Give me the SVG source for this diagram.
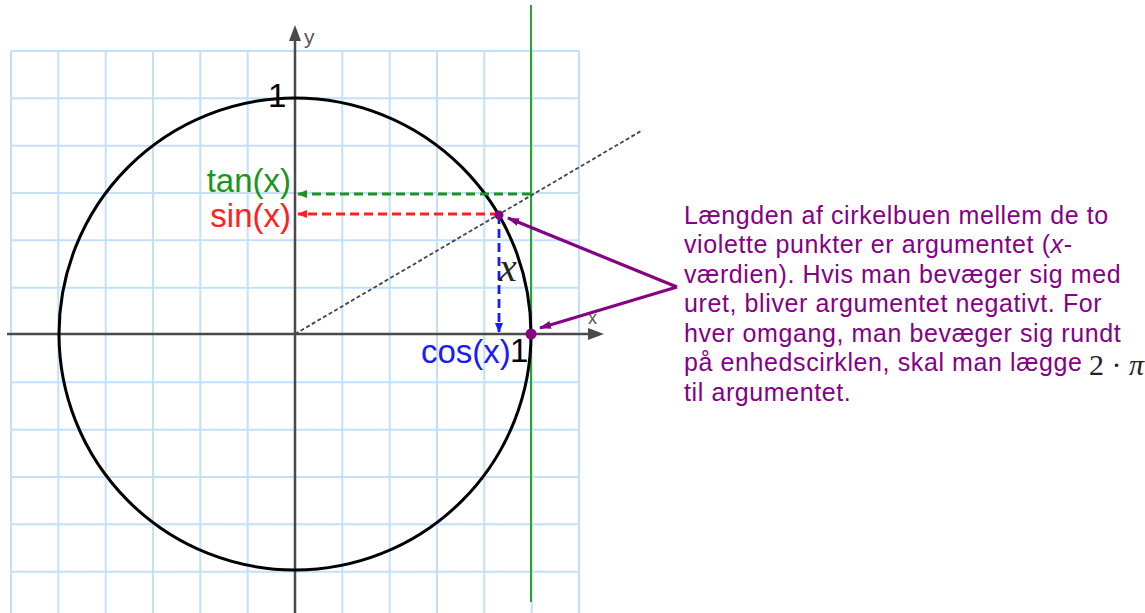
<svg xmlns="http://www.w3.org/2000/svg" width="1145" height="613" viewBox="0 0 1145 613">
<style>
.grid line{stroke:#c0e0fc;stroke-width:2}
.axis{stroke:#4a4a4a;stroke-width:2.5;fill:none}
.lbl{font-family:"Liberation Sans",Arial,sans-serif;font-size:33px}
.small{font-family:"Liberation Sans",Arial,sans-serif;fill:#555}
.desc{font-family:"Liberation Sans",Arial,sans-serif;font-size:25px;fill:#850085;letter-spacing:0.6px}
.dash{stroke-width:2.8;stroke-dasharray:9 5;fill:none}
.purple{stroke:#850085;stroke-width:3.2;fill:none}
</style>
<defs>
<marker id="ag" markerWidth="10" markerHeight="8" refX="9" refY="4" orient="auto" markerUnits="userSpaceOnUse"><path d="M0,0 L10,4 L0,8 z" fill="#1a961a"/></marker>
<marker id="ar" markerWidth="10" markerHeight="8" refX="9" refY="4" orient="auto" markerUnits="userSpaceOnUse"><path d="M0,0 L10,4 L0,8 z" fill="#ff2020"/></marker>
<marker id="ab" markerWidth="10" markerHeight="8" refX="9" refY="4" orient="auto" markerUnits="userSpaceOnUse"><path d="M0,0 L10,4 L0,8 z" fill="#1a1aff"/></marker>
<marker id="ap" markerWidth="12" markerHeight="8" refX="11" refY="4" orient="auto" markerUnits="userSpaceOnUse"><path d="M0,0 L12,4 L0,8 z" fill="#850085"/></marker>
</defs>

<g id="grid" class="grid">
<line x1="11" y1="51" x2="11" y2="613"/>
<line x1="58.3" y1="51" x2="58.3" y2="613"/>
<line x1="105.7" y1="51" x2="105.7" y2="613"/>
<line x1="153" y1="51" x2="153" y2="613"/>
<line x1="200.3" y1="51" x2="200.3" y2="613"/>
<line x1="247.7" y1="51" x2="247.7" y2="613"/>
<line x1="342.3" y1="51" x2="342.3" y2="613"/>
<line x1="389.7" y1="51" x2="389.7" y2="613"/>
<line x1="437" y1="51" x2="437" y2="613"/>
<line x1="484.3" y1="51" x2="484.3" y2="613"/>
<line x1="531.7" y1="51" x2="531.7" y2="613"/>
<line x1="579" y1="51" x2="579" y2="613"/>
<line x1="11" y1="51" x2="579" y2="51"/>
<line x1="11" y1="98.3" x2="579" y2="98.3"/>
<line x1="11" y1="145.7" x2="579" y2="145.7"/>
<line x1="11" y1="193" x2="579" y2="193"/>
<line x1="11" y1="240.3" x2="579" y2="240.3"/>
<line x1="11" y1="287.7" x2="579" y2="287.7"/>
<line x1="11" y1="382.3" x2="579" y2="382.3"/>
<line x1="11" y1="429.7" x2="579" y2="429.7"/>
<line x1="11" y1="477" x2="579" y2="477"/>
<line x1="11" y1="524.3" x2="579" y2="524.3"/>
<line x1="11" y1="571.7" x2="579" y2="571.7"/>
</g>

<g id="green-line"><line x1="531" y1="5" x2="531" y2="602" stroke="#2aa52a" stroke-width="2"/></g>

<g id="axes">
<line class="axis" x1="7" y1="334" x2="592" y2="334"/>
<path d="M604,334 L588,328 L588,340 z" fill="#4a4a4a"/>
<line class="axis" x1="295" y1="613" x2="295" y2="38"/>
<path d="M295,25 L289,41 L301,41 z" fill="#4a4a4a"/>
<text class="small" x="304" y="44" font-size="21">y</text>
<text class="small" x="588" y="324" font-size="18">x</text>
</g>

<g id="circle"><circle cx="295" cy="334" r="236" fill="none" stroke="#000" stroke-width="3"/></g>

<g id="connectors">
<line x1="295" y1="334" x2="641" y2="131" stroke="#444" stroke-width="1.8" stroke-dasharray="4 2.5"/>
<line class="dash" x1="531" y1="194" x2="298" y2="194" stroke="#1a961a" marker-end="url(#ag)"/>
<line class="dash" x1="499" y1="214" x2="298" y2="214" stroke="#ff2020" marker-end="url(#ar)"/>
<line class="dash" x1="499" y1="215" x2="499" y2="332" stroke="#1a1aff" marker-end="url(#ab)"/>
<line class="purple" x1="677" y1="287" x2="508" y2="218" marker-end="url(#ap)"/>
<line class="purple" x1="677" y1="287" x2="540" y2="328" marker-end="url(#ap)"/>
</g>

<g id="points">
<circle cx="499" cy="215" r="4.5" fill="#850085"/>
<circle cx="531" cy="334" r="5.5" fill="#850085"/>
</g>

<g id="labels">
<text class="lbl" x="268" y="107" fill="#000">1</text>
<text class="lbl" x="510" y="362" fill="#000">1</text>
<text class="lbl" x="291" y="192" fill="#1a961a" text-anchor="end">tan(x)</text>
<text class="lbl" x="291" y="227" fill="#ff2020" text-anchor="end">sin(x)</text>
<text class="lbl" x="421" y="363" fill="#1a1aff">cos(x)</text>
<text x="499" y="281" font-family="'Liberation Serif','Times New Roman',serif" font-style="italic" font-size="40" fill="#222">x</text>
</g>

<g id="description">
<text class="desc" x="684" y="224">Længden af cirkelbuen mellem de to</text>
<text class="desc" x="684" y="253">violette punkter er argumentet (<tspan font-style="italic">x</tspan>-</text>
<text class="desc" x="684" y="283">værdien). Hvis man bevæger sig med</text>
<text class="desc" x="684" y="312">uret, bliver argumentet negativt. For</text>
<text class="desc" x="684" y="342">hver omgang, man bevæger sig rundt</text>
<text class="desc" x="684" y="371">på enhedscirklen, skal man lægge</text>
<text class="desc" x="684" y="401">til argumentet.</text>
<text x="1089" y="375" font-family="'Liberation Serif','Times New Roman',serif" font-size="30" fill="#222">2 · <tspan font-style="italic">π</tspan></text>
</g>
</svg>
